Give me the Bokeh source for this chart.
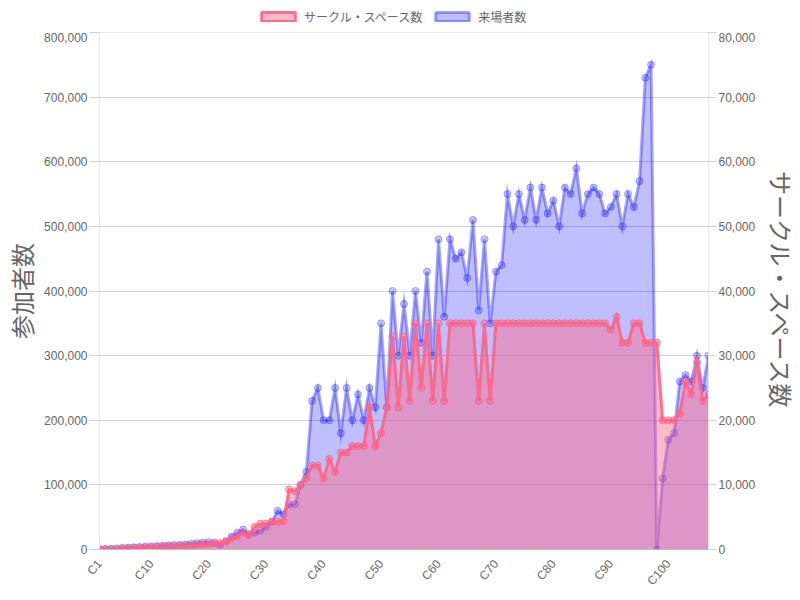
from bokeh.plotting import figure
from bokeh.layouts import column
from bokeh.models import (Range1d, LinearAxis, FixedTicker, NumeralTickFormatter,
                          Legend, LegendItem, ColumnDataSource)
from bokeh.embed import file_html
from bokeh.resources import INLINE

# ---------------- data ----------------
categories = ["C%d" % i for i in range(1, 108)]

circles = [
    32, 54, 63, 90, 150, 200, 250, 280, 320, 360,
    400, 430, 460, 500, 540, 580, 620, 700, 780, 850,
    950, 1000, 1200, 1700, 2000, 2600, 2200, 3500, 4000, 4000,
    4300, 4300, 4300, 9300, 9000, 10000, 11000, 13000, 13000, 11000,
    14000, 12000, 15000, 15000, 16000, 16000, 16000, 22000, 16000, 18000,
    22000, 33000, 22000, 33000, 23000, 35000, 25000, 35000, 23000, 35000,
    23000, 35000, 35000, 35000, 35000, 35000, 23000, 35000, 23000, 35000,
    35000, 35000, 35000, 35000, 35000, 35000, 35000, 35000, 35000, 35000,
    35000, 35000, 35000, 35000, 35000, 35000, 35000, 35000, 35000, 34000,
    36000, 32000, 32000, 35000, 35000, 32000, 32000, 32000, 20000, 20000,
    20000, 21000, 26000, 24000, 29000, 23000, 24000,
]

attendance = [
    700, 800, 1000, 1500, 2600, 3000, 3500, 4000, 4500, 5200,
    5500, 6000, 6500, 7000, 7200, 8000, 9000, 10000, 11000, 11400,
    11000, 7000, 13000, 20000, 26000, 31000, 24000, 26000, 29000, 35000,
    43000, 60000, 55000, 70000, 70000, 100000, 120000, 230000, 250000, 200000,
    200000, 250000, 180000, 250000, 200000, 240000, 200000, 250000, 220000, 350000,
    220000, 400000, 300000, 380000, 300000, 400000, 320000, 430000, 300000, 480000,
    360000, 480000, 450000, 460000, 420000, 510000, 370000, 480000, 350000, 430000,
    440000, 550000, 500000, 550000, 510000, 560000, 510000, 560000, 520000, 540000,
    500000, 560000, 550000, 590000, 520000, 550000, 560000, 550000, 520000, 530000,
    550000, 500000, 550000, 530000, 570000, 730000, 750000, 0, 110000, 170000,
    180000, 260000, 270000, 260000, 300000, 250000, 300000,
]

tick_labels = ["C1", "C10", "C20", "C30", "C40", "C50", "C60", "C70", "C80", "C90", "C100"]
left_ticks = [0, 100000, 200000, 300000, 400000, 500000, 600000, 700000, 800000]
right_ticks = [0, 10000, 20000, 30000, 40000, 50000, 60000, 70000, 80000]

series_names = ["サークル・スペース数", "来場者数"]
left_title = "参加者数"
right_title = "サークル・スペース数"

# ---------------- styles ----------------
RED = (255, 99, 132)
BLUE = (0, 0, 255)
TXT = "#666666"
GRID = "#d0d0d0"
JP = "Noto Sans CJK JP"
NUM = "Liberation Sans"

x = list(range(len(categories)))
src = ColumnDataSource(dict(x=x, c=circles, a=attendance))
pos = {c: i for i, c in enumerate(categories)}
tick_pos = [pos[t] for t in tick_labels]

# ---------------- main chart ----------------
p = figure(frame_width=609, frame_height=517, output_backend="svg", toolbar_location=None,
           title=None,
           x_range=Range1d(0, len(categories) - 1),
           y_range=Range1d(left_ticks[0], left_ticks[-1]),
           min_border_left=99, min_border_right=92, min_border_top=0,
           min_border_bottom=51)
p.extra_y_ranges = {"right": Range1d(right_ticks[0], right_ticks[-1])}
p.background_fill_color = "white"
p.border_fill_color = "white"
p.outline_line_color = "#e6e6e6"

p.xgrid.visible = False
p.ygrid.ticker = FixedTicker(ticks=left_ticks)
p.ygrid.grid_line_color = GRID

ly = p.yaxis[0]
ly.ticker = FixedTicker(ticks=left_ticks)
ly.formatter = NumeralTickFormatter(format="0,0")
ly.axis_line_color = "#e6e6e6"
ly.major_tick_line_color = GRID
ly.major_tick_out = 10
ly.major_tick_in = 0
ly.minor_tick_line_color = None
ly.major_label_standoff = 2
ly.major_label_text_font = NUM
ly.major_label_text_font_size = "12px"
ly.major_label_text_color = TXT
ly.axis_label = left_title
ly.axis_label_text_font = JP
ly.axis_label_text_font_size = "24px"
ly.axis_label_text_font_style = "normal"
ly.axis_label_text_color = TXT
ly.axis_label_text_line_height = 0.8
ly.axis_label_standoff = 2

ry = LinearAxis(y_range_name="right", ticker=FixedTicker(ticks=right_ticks),
                formatter=NumeralTickFormatter(format="0,0"))
ry.axis_line_color = "#e6e6e6"
ry.major_tick_line_color = GRID
ry.major_tick_out = 8
ry.major_tick_in = 0
ry.minor_tick_line_color = None
ry.major_label_standoff = 2
ry.major_label_text_font = NUM
ry.major_label_text_font_size = "12px"
ry.major_label_text_color = TXT
ry.axis_label = right_title
ry.axis_label_text_font = JP
ry.axis_label_text_font_size = "24px"
ry.axis_label_text_font_style = "normal"
ry.axis_label_text_color = TXT
ry.axis_label_text_line_height = 0.8
ry.axis_label_standoff = 6
p.add_layout(ry, "right")

xa = p.xaxis[0]
xa.ticker = FixedTicker(ticks=tick_pos)
xa.major_label_overrides = {tp: lab for tp, lab in zip(tick_pos, tick_labels)}
xa.major_label_orientation = 0.87
xa.axis_line_color = "#bfbfbf"
xa.major_tick_line_color = None
xa.minor_tick_line_color = None
xa.major_label_standoff = 6
xa.major_label_text_font = NUM
xa.major_label_text_font_size = "12px"
xa.major_label_text_color = TXT

# attendance (blue, left axis) drawn first (below)
p.varea(x="x", y1=0, y2="a", source=src, fill_color=BLUE, fill_alpha=0.25)
p.line("x", "a", source=src, line_color=BLUE, line_alpha=0.35, line_width=3,
       line_join="miter")
p.scatter("x", "a", source=src, size=7, fill_color=BLUE, fill_alpha=0.22,
          line_color=BLUE, line_alpha=0.3, line_width=1)

# circles (red, right axis) on top
p.varea(x="x", y1=0, y2="c", source=src, fill_color=RED, fill_alpha=0.45,
        y_range_name="right")
p.line("x", "c", source=src, line_color=RED, line_alpha=0.9, line_width=3,
       line_join="miter", y_range_name="right")
p.scatter("x", "c", source=src, size=7, fill_color=RED, fill_alpha=0.45,
          line_color=RED, line_alpha=0.8, line_width=1, y_range_name="right")

# ---------------- legend strip above the chart ----------------
lg = figure(width=800, height=32, output_backend="svg", toolbar_location=None,
            title=None, x_axis_type=None, y_axis_type=None,
            x_range=Range1d(0, 1), y_range=Range1d(0, 1),
            min_border_left=0, min_border_right=0, min_border_top=0,
            min_border_bottom=0)
lg.outline_line_color = None
lg.xgrid.visible = False
lg.ygrid.visible = False
lg.background_fill_color = "white"
lg.border_fill_color = "white"

leg_red = lg.quad(left=[-3], right=[-2], top=[-2], bottom=[-3], fill_color=RED,
                  fill_alpha=0.45, line_color=RED, line_alpha=0.9, line_width=3)
leg_blue = lg.quad(left=[-3], right=[-2], top=[-2], bottom=[-3], fill_color=BLUE,
                   fill_alpha=0.25, line_color=BLUE, line_alpha=0.35, line_width=3)

legend = Legend(items=[LegendItem(label=series_names[0], renderers=[leg_red]),
                       LegendItem(label=series_names[1], renderers=[leg_blue])],
                orientation="horizontal", location=(158, 7),
                glyph_width=42, glyph_height=11, label_height=12,
                label_standoff=5, spacing=9, padding=0, margin=0,
                label_text_font=JP, label_text_font_size="12px",
                label_text_color=TXT, border_line_color=None,
                background_fill_alpha=0)
lg.add_layout(legend, "center")

layout = column(lg, p, spacing=0)

open("out.html", "w").write(file_html(layout, INLINE))
